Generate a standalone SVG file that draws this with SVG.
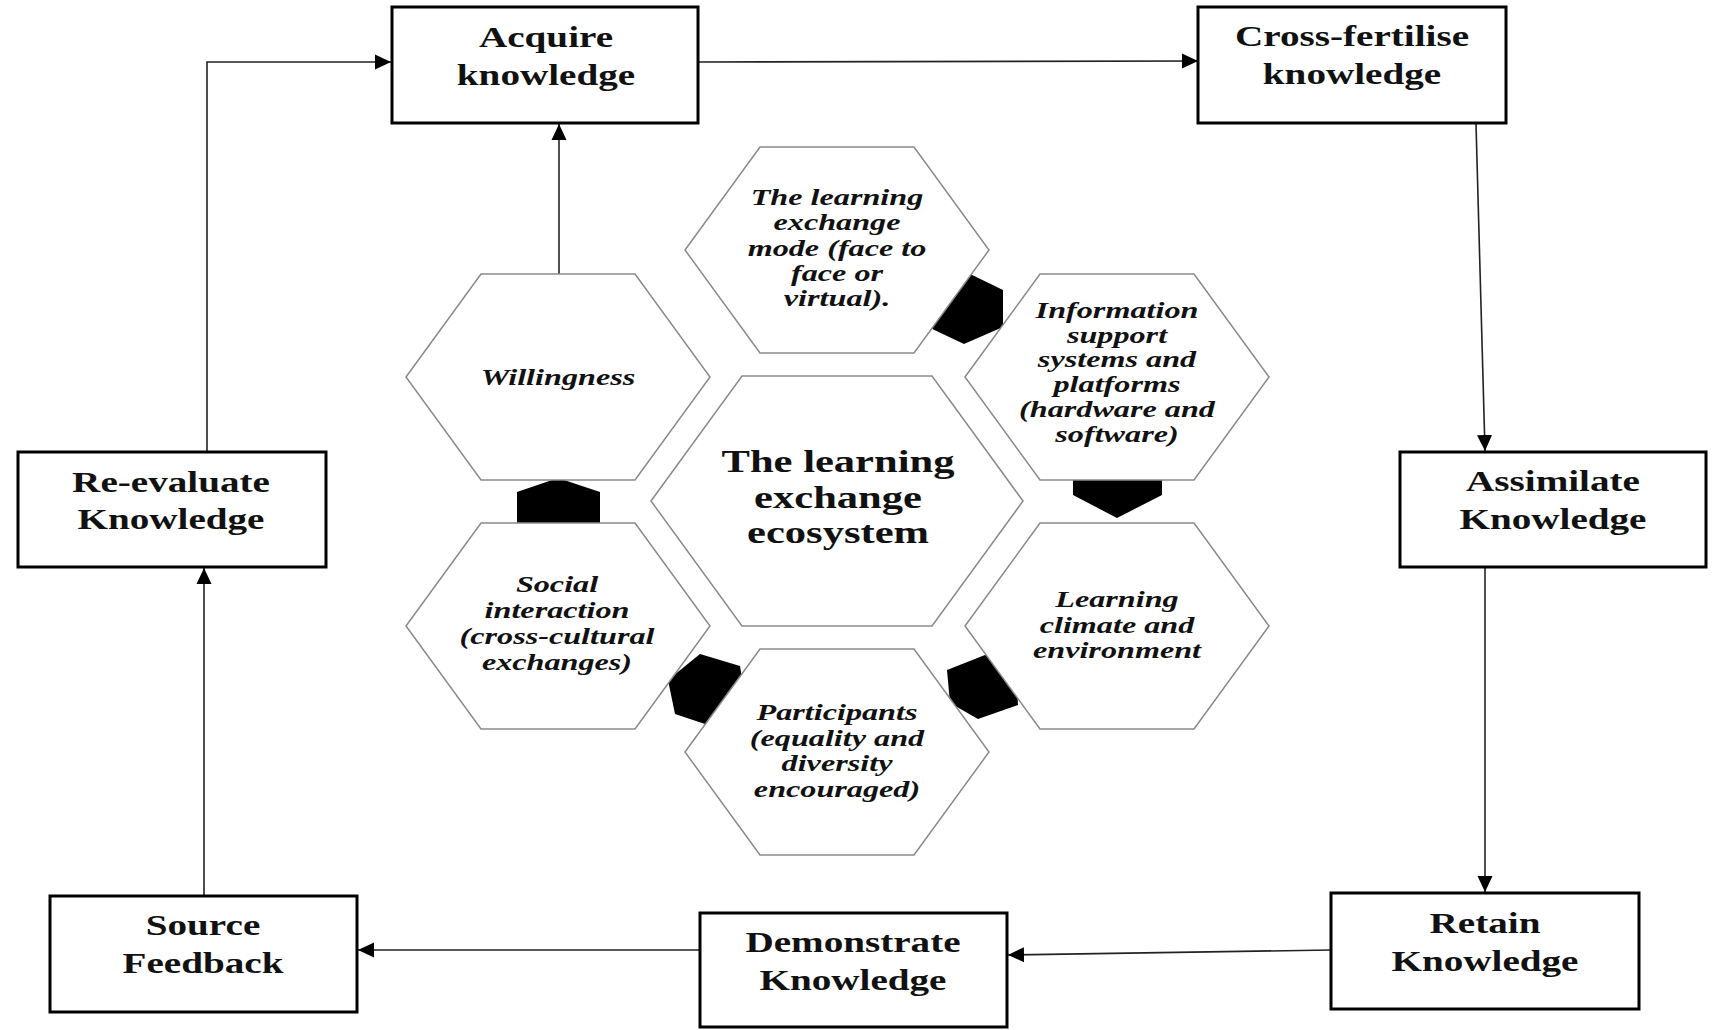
<svg xmlns="http://www.w3.org/2000/svg" width="1714" height="1030" viewBox="0 0 1714 1030">
<style>
.box{fill:#fff;stroke:#000;stroke-width:3}
.bt{font-family:"Liberation Serif","Times New Roman",serif;font-weight:bold;font-size:29px;text-anchor:middle;fill:#111}
.hex{fill:#fff;stroke:#8a8a8a;stroke-width:1.5}
.ht{font-family:"Liberation Serif","Times New Roman",serif;font-weight:bold;font-style:italic;font-size:23px;text-anchor:middle;fill:#111}
.ct{font-family:"Liberation Serif","Times New Roman",serif;font-weight:bold;font-size:32px;text-anchor:middle;fill:#111}
.link{fill:#000;stroke:none}
.con{fill:none;stroke:#222;stroke-width:1.6}
</style>
<defs>
<marker id="arr" viewBox="0 0 16 16" refX="16" refY="8" markerWidth="16" markerHeight="16" markerUnits="userSpaceOnUse" orient="auto"><path d="M0,0.5 L16,8 L0,15.5 z" fill="#000"/></marker>
<polygon id="hx" points="-152,0 -77,-103 77,-103 152,0 77,103 -77,103"/>
</defs>
<rect width="1714" height="1030" fill="#fff"/>

<g id="connectors">
<line class="con" x1="698" y1="62" x2="1198" y2="61" marker-end="url(#arr)"/>
<line class="con" x1="1476" y1="124" x2="1485" y2="451" marker-end="url(#arr)"/>
<line class="con" x1="1485" y1="567" x2="1485" y2="892" marker-end="url(#arr)"/>
<line class="con" x1="1331" y1="950" x2="1008" y2="955" marker-end="url(#arr)"/>
<line class="con" x1="700" y1="950" x2="358" y2="950" marker-end="url(#arr)"/>
<line class="con" x1="204" y1="896" x2="204" y2="568" marker-end="url(#arr)"/>
<polyline class="con" points="207,452 207,62 391,62" marker-end="url(#arr)"/>
<line class="con" x1="559" y1="274" x2="559" y2="124" marker-end="url(#arr)"/>
</g>

<g id="hex-links">
<polygon class="link" points="966,272 1003,290 1003,327 964,344 928,327 928,290"/>
<polygon class="link" points="558,478 600,492 600,530 558,545 517,530 517,492"/>
<polygon class="link" points="1117,450 1162,465 1162,495 1117,518 1073,495 1073,465"/>
<polygon class="link" points="700,654 740,666 746,704 708,725 675,714 668,680"/>
<polygon class="link" points="985,655 1016,668 1018,705 978,719 950,703 947,670"/>
</g>

<g id="box-acquire">
<rect class="box" x="392" y="7" width="306" height="116"/>
<text class="bt" transform="translate(546,0) scale(1.35,1)"><tspan x="0" y="47">Acquire</tspan><tspan x="0" y="85">knowledge</tspan></text>
</g>
<g id="box-crossfertilise">
<rect class="box" x="1198" y="7" width="308" height="116"/>
<text class="bt" transform="translate(1352,0) scale(1.35,1)"><tspan x="0" y="46">Cross-fertilise</tspan><tspan x="0" y="84">knowledge</tspan></text>
</g>
<g id="box-reevaluate">
<rect class="box" x="18" y="452" width="308" height="115"/>
<text class="bt" transform="translate(171,0) scale(1.35,1)"><tspan x="0" y="492">Re-evaluate</tspan><tspan x="0" y="529">Knowledge</tspan></text>
</g>
<g id="box-assimilate">
<rect class="box" x="1400" y="452" width="306" height="115"/>
<text class="bt" transform="translate(1553,0) scale(1.35,1)"><tspan x="0" y="491">Assimilate</tspan><tspan x="0" y="529">Knowledge</tspan></text>
</g>
<g id="box-source">
<rect class="box" x="50" y="896" width="307" height="116"/>
<text class="bt" transform="translate(203,0) scale(1.35,1)"><tspan x="0" y="935">Source</tspan><tspan x="0" y="973">Feedback</tspan></text>
</g>
<g id="box-demonstrate">
<rect class="box" x="700" y="913" width="307" height="114"/>
<text class="bt" transform="translate(853,0) scale(1.35,1)"><tspan x="0" y="952">Demonstrate</tspan><tspan x="0" y="990">Knowledge</tspan></text>
</g>
<g id="box-retain">
<rect class="box" x="1331" y="893" width="308" height="116"/>
<text class="bt" transform="translate(1485,0) scale(1.35,1)"><tspan x="0" y="933">Retain</tspan><tspan x="0" y="971">Knowledge</tspan></text>
</g>

<g id="hex-mode">
<use href="#hx" class="hex" x="837" y="250"/>
<text class="ht" transform="translate(837,0) scale(1.4,1)"><tspan x="0" y="205">The learning</tspan><tspan x="0" y="230">exchange</tspan><tspan x="0" y="256">mode (face to</tspan><tspan x="0" y="281">face or</tspan><tspan x="0" y="306">virtual).</tspan></text>
</g>
<g id="hex-willingness">
<use href="#hx" class="hex" x="558" y="377"/>
<text class="ht" transform="translate(558,0) scale(1.4,1)"><tspan x="0" y="385">Willingness</tspan></text>
</g>
<g id="hex-information">
<use href="#hx" class="hex" x="1117" y="377"/>
<text class="ht" transform="translate(1117,0) scale(1.4,1)"><tspan x="0" y="318">Information</tspan><tspan x="0" y="343">support</tspan><tspan x="0" y="367">systems and</tspan><tspan x="0" y="392">platforms</tspan><tspan x="0" y="417">(hardware and</tspan><tspan x="0" y="442">software)</tspan></text>
</g>
<g id="hex-social">
<use href="#hx" class="hex" x="558" y="626"/>
<text class="ht" transform="translate(557,0) scale(1.4,1)"><tspan x="0" y="592">Social</tspan><tspan x="0" y="618">interaction</tspan><tspan x="0" y="644">(cross-cultural</tspan><tspan x="0" y="670">exchanges)</tspan></text>
</g>
<g id="hex-climate">
<use href="#hx" class="hex" x="1117" y="626"/>
<text class="ht" transform="translate(1117,0) scale(1.4,1)"><tspan x="0" y="607">Learning</tspan><tspan x="0" y="633">climate and</tspan><tspan x="0" y="658">environment</tspan></text>
</g>
<g id="hex-participants">
<use href="#hx" class="hex" x="837" y="752"/>
<text class="ht" transform="translate(837,0) scale(1.4,1)"><tspan x="0" y="720">Participants</tspan><tspan x="0" y="746">(equality and</tspan><tspan x="0" y="771">diversity</tspan><tspan x="0" y="797">encouraged)</tspan></text>
</g>
<g id="hex-center">
<polygon class="hex" points="651,501 742,376 932,376 1023,501 932,626 742,626"/>
<text class="ct" transform="translate(838,0) scale(1.33,1)"><tspan x="0" y="472">The learning</tspan><tspan x="0" y="508">exchange</tspan><tspan x="0" y="543">ecosystem</tspan></text>
</g>
</svg>
